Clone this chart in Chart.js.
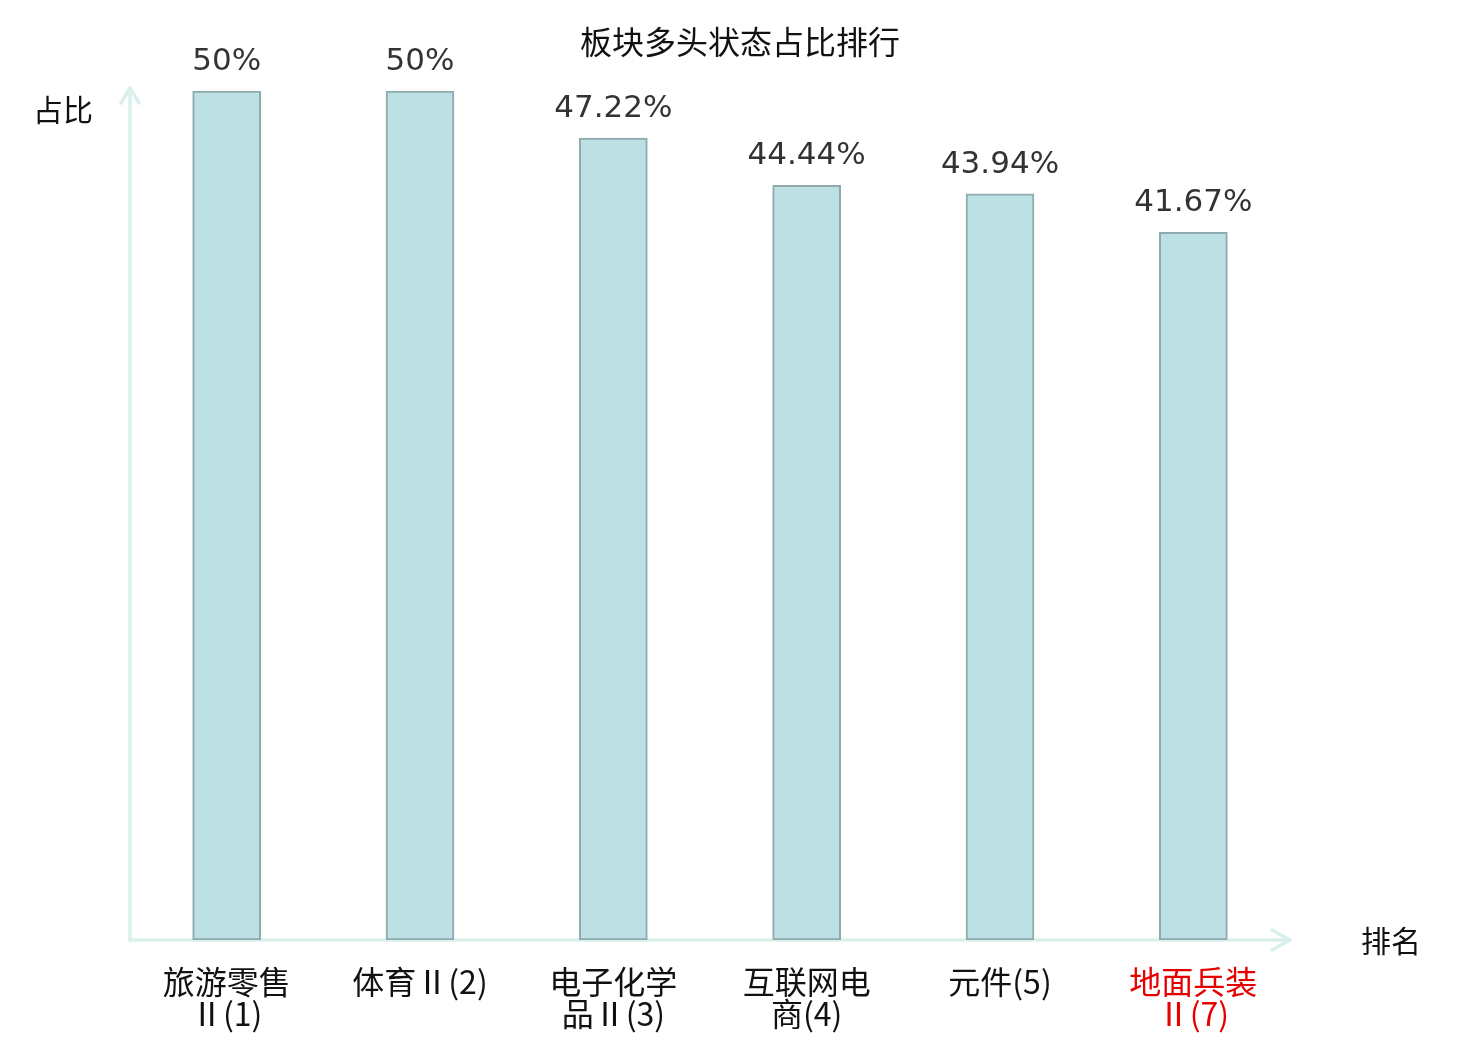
<!DOCTYPE html>
<html>
<head>
<meta charset="utf-8">
<script src="https://cdn.jsdelivr.net/npm/chart.js@4.4.1/dist/chart.umd.min.js"></script>
<style>
html,body{margin:0;padding:0;background:#fff;}
#wrap{width:1480px;height:1040px;position:relative;}
</style>
</head>
<body>
<div id="wrap"><canvas id="c" width="1480" height="1040"></canvas></div>
<script>
const categories = [['旅游零售','Ⅱ(1)'], '体育Ⅱ(2)', ['电子化学','品Ⅱ(3)'], ['互联网电','商(4)'], '元件(5)', ['地面兵装','Ⅱ(7)']];
const values = [50, 50, 47.22, 44.44, 43.94, 41.67];
const valueLabels = ['50%', '50%', '47.22%', '44.44%', '43.94%', '41.67%'];
const labelColors = ['#111', '#111', '#111', '#111', '#111', '#e60000'];
const titleText = '板块多头状态占比排行';
const yAxisName = '占比';
const xAxisName = '排名';

const CJK = '"Noto Sans CJK SC", "Noto Sans", sans-serif';
const AXIS_COLOR = '#d9f0ec';

const decor = {
  id: 'decor',
  beforeDatasetsDraw(chart) {
    const {ctx, chartArea: a} = chart;
    ctx.save();
    ctx.strokeStyle = AXIS_COLOR;
    ctx.lineWidth = 3.5;
    ctx.lineCap = 'round';
    ctx.lineJoin = 'round';
    ctx.beginPath();
    ctx.moveTo(a.left, a.bottom);
    ctx.lineTo(a.left, a.top - 3);
    ctx.stroke();
    ctx.beginPath();
    ctx.moveTo(a.left - 9, a.top + 12);
    ctx.lineTo(a.left, a.top - 3);
    ctx.lineTo(a.left + 9, a.top + 12);
    ctx.stroke();
    ctx.beginPath();
    ctx.moveTo(a.left, a.bottom);
    ctx.lineTo(a.right, a.bottom);
    ctx.stroke();
    ctx.beginPath();
    ctx.moveTo(a.right - 18, a.bottom - 10);
    ctx.lineTo(a.right, a.bottom);
    ctx.lineTo(a.right - 18, a.bottom + 10);
    ctx.stroke();
    ctx.restore();
  },
  afterDatasetsDraw(chart) {
    const {ctx, chartArea: a} = chart;
    ctx.save();
    const meta = chart.getDatasetMeta(0);
    ctx.font = '31px "DejaVu Sans", sans-serif';
    ctx.fillStyle = '#333';
    ctx.textAlign = 'center';
    ctx.textBaseline = 'middle';
    meta.data.forEach((bar, i) => {
      ctx.fillText(valueLabels[i], bar.x, bar.y - 29);
    });
    ctx.fillStyle = '#111';
    ctx.font = '32px ' + CJK;
    ctx.fillText(titleText, 740, 42);
    ctx.font = '30px ' + CJK;
    ctx.fillText(yAxisName, a.left - 67, a.top + 19);
    ctx.fillText(xAxisName, a.right + 101, a.bottom + 1);
    ctx.restore();
  }
};

new Chart(document.getElementById('c'), {
  type: 'bar',
  data: {
    labels: categories,
    datasets: [{
      data: values,
      backgroundColor: '#bce0e3',
      borderColor: '#8eaaac',
      borderWidth: 2,
      borderSkipped: false,
      barThickness: 68
    }]
  },
  options: {
    responsive: false,
    animation: false,
    devicePixelRatio: 1,
    layout: {padding: {left: 130, right: 190, top: 91, bottom: 0}},
    plugins: {legend: {display: false}, tooltip: {enabled: false}, title: {display: false}},
    scales: {
      x: {
        grid: {display: false},
        border: {display: false},
        ticks: {
          padding: 18,
          maxRotation: 0,
          autoSkip: false,
          color: (c) => labelColors[c.index],
          font: {family: CJK, size: 32, lineHeight: 1.0}
        },
        afterFit: (axis) => { axis.height = 100; }
      },
      y: {
        display: false,
        min: 0,
        max: 50
      }
    }
  },
  plugins: [decor]
});
</script>
</body>
</html>
